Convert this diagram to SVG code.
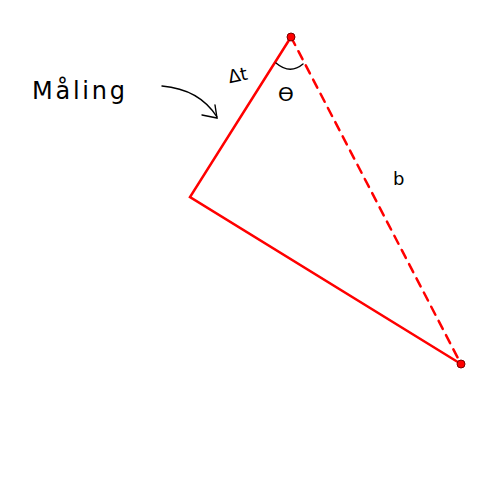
<svg xmlns="http://www.w3.org/2000/svg" width="500" height="500" viewBox="0 0 500 500">
<style>
.red{stroke:#ff0000;stroke-width:2.5;fill:none;stroke-linecap:round}
.ink{stroke:#000;stroke-width:1.4;fill:none;stroke-linecap:round}
.lbl{font-family:"DejaVu Sans",sans-serif;fill:#000}
.dot{fill:#ff0000;stroke:#7a0000;stroke-width:1}
</style>
<rect width="500" height="500" fill="#fff"/>
<g id="connectors">
<polyline class="red" points="291,37 190,197 461,364"/>
<line class="red" x1="291" y1="37" x2="461" y2="364" stroke-dasharray="9,7"/>
<path class="ink" d="M162,86 C185,88 205,98 217,117"/>
<path class="ink" d="M202,115 L217,118 L215,105"/>
<path class="ink" d="M276,63 Q290,75 303,64"/>
</g>
<g id="top"><circle class="dot" cx="291" cy="37" r="4"/></g>
<g id="bottom"><circle class="dot" cx="461" cy="364" r="4"/></g>
<g id="labels">
<text class="lbl" x="32" y="99" font-size="24" textLength="93" lengthAdjust="spacing">Måling</text>
<text class="lbl" x="228" y="81" font-size="18" transform="rotate(-12 240 75)">Δt</text>
<text class="lbl" x="278" y="101" font-size="20">ϴ</text>
<text class="lbl" x="393" y="185" font-size="18">b</text>
</g>
</svg>
